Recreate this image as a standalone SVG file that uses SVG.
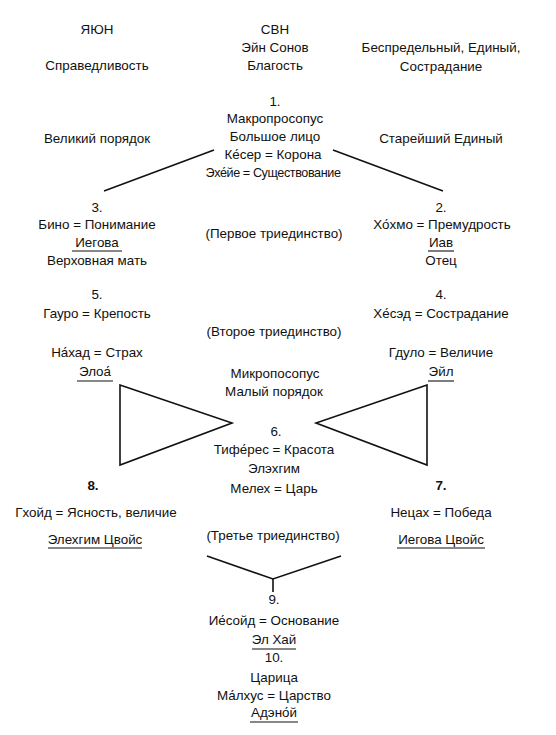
<svg xmlns="http://www.w3.org/2000/svg" width="556" height="735" viewBox="0 0 556 735">
<style>
text{font-family:"Liberation Sans",Arial,sans-serif;font-size:13.4px;fill:#111;text-anchor:middle}
.b{font-weight:bold}
.c{font-size:12.6px;letter-spacing:-0.4px}
.u{stroke:#111;stroke-width:1.1}
.ln{stroke:#111;stroke-width:1.6;fill:none;stroke-linejoin:miter}
</style>
<rect width="556" height="735" fill="#fff"/>
<g id="header-left">
<text x="97" y="34">ЯЮН</text>
<text x="97" y="70">Справедливость</text>
</g>
<g id="header-center">
<text x="275" y="34">СВН</text>
<text x="275" y="52">Эйн Сонов</text>
<text x="275" y="70">Благость</text>
</g>
<g id="header-right">
<text x="441" y="52">Беспредельный, Единый,</text>
<text x="441" y="71">Сострадание</text>
</g>
<g id="label-left">
<text x="97" y="143">Великий порядок</text>
</g>
<g id="label-right">
<text x="441" y="143">Старейший Единый</text>
</g>
<g id="node1">
<text x="275" y="106">1.</text>
<text x="275" y="123">Макропросопус</text>
<text x="275" y="141">Большое лицо</text>
<text x="273" y="159">Ке́сер = Корона</text>
<text class="c" x="273" y="177">Эхе́йе = Существование</text>
</g>
<g id="node3">
<text x="97" y="212">3.</text>
<text x="97" y="229">Бино = Понимание</text>
<text x="97" y="247">Иегова</text>
<line class="u" x1="72" y1="251" x2="122" y2="251"/>
<text x="97" y="265">Верховная мать</text>
</g>
<g id="triad1">
<text x="274" y="238">(Первое триединство)</text>
</g>
<g id="node2">
<text x="441" y="212">2.</text>
<text x="442" y="229">Хо́хмо = Премудрость</text>
<text x="441" y="247">Иав</text>
<line class="u" x1="428" y1="251" x2="454" y2="251"/>
<text x="441" y="265">Отец</text>
</g>
<g id="node5">
<text x="97" y="299">5.</text>
<text x="97" y="318">Гауро = Крепость</text>
<text x="97" y="357">На́хад = Страх</text>
<text x="95" y="376">Элоа́</text>
<line class="u" x1="77" y1="381" x2="113" y2="381"/>
</g>
<g id="triad2">
<text x="274" y="336">(Второе триединство)</text>
</g>
<g id="node4">
<text x="441" y="299">4.</text>
<text x="441" y="318">Хе́сэд = Сострадание</text>
<text x="441" y="357">Гдуло = Величие</text>
<text x="441" y="376">Эйл</text>
<line class="u" x1="428" y1="381" x2="454" y2="381"/>
</g>
<g id="node6">
<text x="275" y="378">Микропосопус</text>
<text x="274" y="396">Малый порядок</text>
<text x="276" y="436">6.</text>
<text x="274" y="454">Тифе́рес = Красота</text>
<text x="274" y="473">Элэхгим</text>
<text x="274" y="493">Мелех = Царь</text>
</g>
<g id="node8">
<text class="b" x="93" y="490">8.</text>
<text x="96" y="517">Гхойд = Ясность, величие</text>
<text x="95" y="544">Элехгим Цвойс</text>
<line class="u" x1="48" y1="548" x2="142" y2="548"/>
</g>
<g id="triad3">
<text x="273" y="540">(Третье триединство)</text>
</g>
<g id="node7">
<text class="b" x="441" y="490">7.</text>
<text x="441" y="517">Нецах = Победа</text>
<text x="441" y="544">Иегова Цвойс</text>
<line class="u" x1="397" y1="548" x2="485" y2="548"/>
</g>
<g id="node9">
<text x="274" y="604">9.</text>
<text x="274" y="625">Ие́сойд = Основание</text>
<text x="274" y="644">Эл Хай</text>
<line class="u" x1="252" y1="649" x2="296" y2="649"/>
</g>
<g id="node10">
<text x="274" y="662">10.</text>
<text x="274" y="682">Царица</text>
<text x="274" y="700">Ма́лхус = Царство</text>
<text x="274" y="717">Адэно́й</text>
<line class="u" x1="250" y1="722" x2="298" y2="722"/>
</g>
<g id="connectors">
<line class="ln" x1="104" y1="191" x2="214" y2="150"/>
<line class="ln" x1="333" y1="150" x2="443" y2="191"/>
<polygon class="ln" points="120,385 232,423 120,465"/>
<polygon class="ln" points="427,385 316,423 427,465"/>
<polyline class="ln" points="207,556 273,579 341,556"/>
<line class="ln" x1="273" y1="579" x2="273" y2="592"/>
</g>
</svg>
